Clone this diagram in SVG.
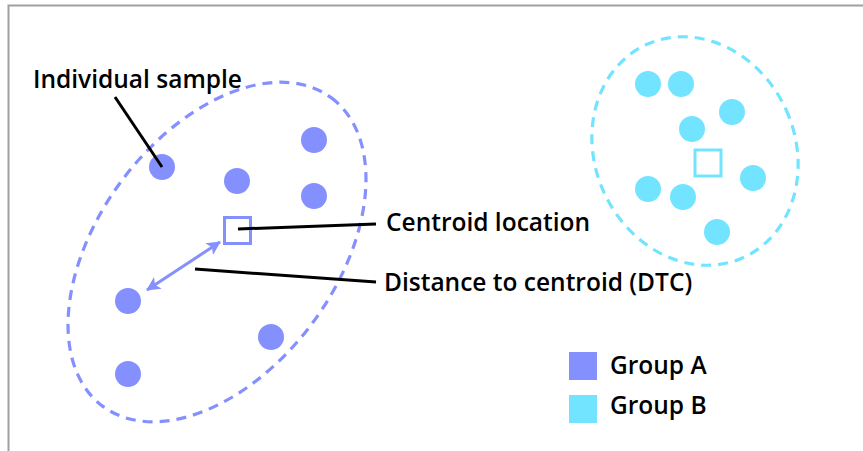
<svg xmlns="http://www.w3.org/2000/svg" width="863" height="451" viewBox="0 0 863 451">
<style>
.lbl{font-family:"Open Sans","Noto Sans","Liberation Sans",sans-serif;font-weight:600;font-size:24.5px;fill:#000}
.a{fill:#8590FF}
.b{fill:#72E4FF}
.ell{fill:none;stroke-width:3.2;stroke-dasharray:10 7}
.lead{stroke:#000;stroke-width:3;fill:none}
</style>
<defs>
<marker id="ah" viewBox="0 0 14 14" refX="13" refY="7" markerWidth="14" markerHeight="14" markerUnits="userSpaceOnUse" orient="auto-start-reverse">
<path d="M0,0 L14,7 L0,14 L3.5,7 Z" fill="#8590FF"/>
</marker>
</defs>
<rect width="863" height="451" fill="#fff"/>
<path d="M8.5,451 V5.5 H863" fill="none" stroke="#A0A0A0" stroke-width="2"/>
<g id="groupA">
<ellipse class="ell" cx="217" cy="252" rx="192" ry="119" transform="rotate(-53.5 217 252)" stroke="#8590FF"/>
<circle class="a" cx="162" cy="167" r="13"/>
<circle class="a" cx="237" cy="181" r="13"/>
<circle class="a" cx="314" cy="140" r="13"/>
<circle class="a" cx="314" cy="196" r="13"/>
<circle class="a" cx="128" cy="301" r="13"/>
<circle class="a" cx="128" cy="374" r="13"/>
<circle class="a" cx="271" cy="337" r="13"/>
<rect x="224.5" y="217.5" width="26" height="26" fill="none" stroke="#8590FF" stroke-width="3"/>
</g>
<g id="groupB">
<ellipse class="ell" cx="695" cy="151" rx="100" ry="117" transform="rotate(-24.5 695 151)" stroke="#72E4FF"/>
<circle class="b" cx="648" cy="84" r="13"/>
<circle class="b" cx="681" cy="84" r="13"/>
<circle class="b" cx="732" cy="112" r="13"/>
<circle class="b" cx="692" cy="129" r="13"/>
<circle class="b" cx="753" cy="178" r="13"/>
<circle class="b" cx="648" cy="189" r="13"/>
<circle class="b" cx="683" cy="197" r="13"/>
<circle class="b" cx="717" cy="232" r="13"/>
<rect x="695" y="150" width="26" height="26" fill="none" stroke="#72E4FF" stroke-width="3"/>
</g>
<g id="connectors">
<line x1="147" y1="290" x2="220" y2="242" stroke="#8590FF" stroke-width="3" marker-start="url(#ah)" marker-end="url(#ah)"/>
<line class="lead" x1="115" y1="97" x2="162" y2="167"/>
<line class="lead" x1="238" y1="229" x2="376" y2="224"/>
<line class="lead" x1="195" y1="269" x2="376" y2="282"/>
</g>
<g id="labels">
<text class="lbl" x="33" y="88">Individual sample</text>
<text class="lbl" x="386" y="231">Centroid location</text>
<text class="lbl" x="384" y="291">Distance to centroid (DTC)</text>
</g>
<g id="legend">
<rect x="569" y="352" width="28" height="28" class="a"/>
<rect x="569" y="395" width="28" height="28" class="b"/>
<text class="lbl" x="610" y="374">Group A</text>
<text class="lbl" x="610" y="414">Group B</text>
</g>
</svg>
